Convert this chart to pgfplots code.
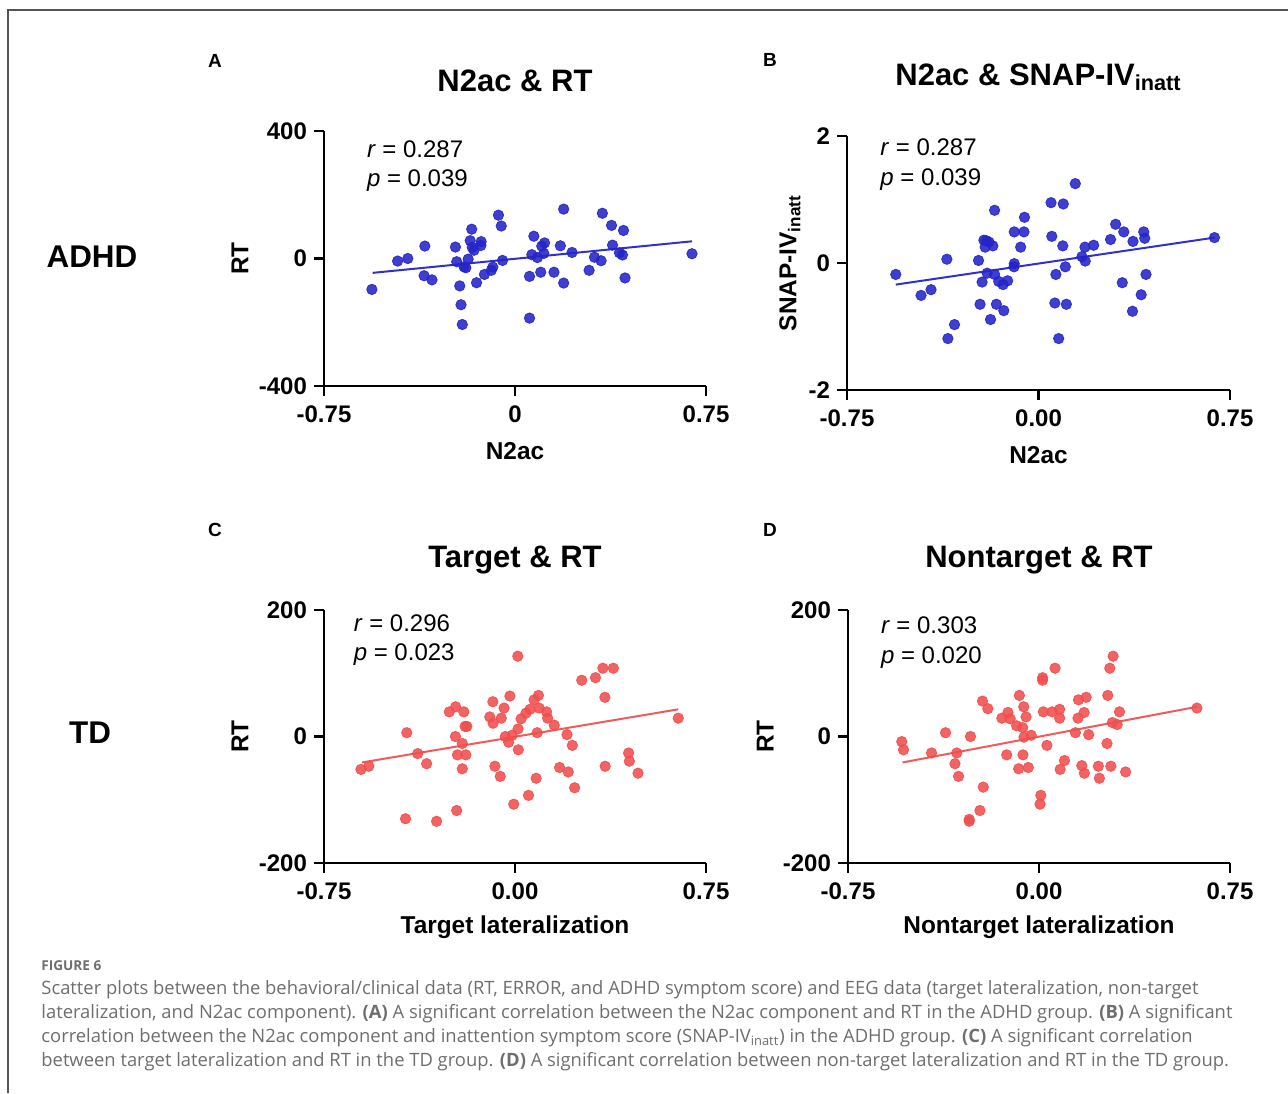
\documentclass[border=0pt]{standalone}
\usepackage{fontspec}
\setmainfont{Liberation Sans}
\newfontfamily\capfont{Open Sans}
\usepackage{pgfplots}
\pgfplotsset{compat=1.18}
\definecolor{ptblue}{HTML}{2424C8}
\definecolor{lnblue}{HTML}{3030CC}
\definecolor{ptred}{HTML}{F04E4E}
\definecolor{lnred}{HTML}{F25A5A}
\definecolor{capgray}{HTML}{6E6E6E}
\definecolor{framegray}{HTML}{555555}

\pgfplotsset{
  panel/.style={
    scale only axis, clip=false,
    axis x line*=bottom, axis y line*=left,
    axis line style={-, line width=1.15pt},
    every tick/.style={black, line width=1.15pt},
    major tick length=5pt, tick align=outside,
    xmin=-0.75, xmax=0.75, xtick={-0.75,0,0.75},
    tick label style={font=\bfseries\fontsize{12}{14}\selectfont},
    xticklabel style={yshift=-1.5pt},
    label style={font=\bfseries\fontsize{12.2}{14}\selectfont},
    title style={font=\bfseries\fontsize{15.5}{18}\selectfont, at={(axis description cs:0.5,1)}, anchor=base},
    xlabel style={at={(axis description cs:0.5,-0.255)}, anchor=center},
  },
  dots/.style={only marks, mark=*, color=#1, mark size=2.6pt, mark options={fill=#1, fill opacity=0.88, draw opacity=0.88}},
}

\begin{document}
\begin{tikzpicture}
\path[use as bounding box] (0,0) rectangle (644pt,-546.5pt);
\draw[framegray, line width=0.9pt] (644pt,-5pt) -- (4pt,-5pt) -- (4pt,-546.5pt);

% A
\begin{axis}[panel, at={(162pt,-193pt)}, anchor=south west, width=191pt, height=127.5pt,
  ymin=-400, ymax=400, ytick={-400,0,400}, yticklabels={-400,0,400}, xticklabels={-0.75,0,0.75},
  title={N2ac \& RT}, title style={yshift=14pt},
  xlabel={N2ac}, ylabel={RT}, ylabel style={at={(axis description cs:-0.22,0.5)}, anchor=center}]
\addplot[dots=ptblue] coordinates {
(-0.562,-97) (-0.461,-8) (-0.421,0) (-0.354,39) (-0.357,-54) (-0.326,-67)
(-0.234,36) (-0.229,-10) (-0.217,-86) (-0.212,-145) (-0.207,-207) (-0.200,-26)
(-0.193,-29) (-0.184,-2) (-0.176,56) (-0.170,92) (-0.168,35) (-0.161,26)
(-0.133,53) (-0.134,41) (-0.151,-76) (-0.120,-50) (-0.093,-37) (-0.087,-27)
(-0.065,136) (-0.054,102) (-0.049,-6) (0.057,-56) (0.057,-187) (0.066,12)
(0.074,70) (0.088,3) (0.101,-43) (0.105,39) (0.116,49) (0.113,16)
(0.153,-43) (0.178,40) (0.191,-77) (0.191,155) (0.224,19) (0.291,-37)
(0.312,4) (0.338,-7) (0.343,142) (0.379,104) (0.383,42) (0.410,18)
(0.422,11) (0.426,88) (0.432,-61) (0.695,15)};
\addplot[lnblue, line width=1pt] coordinates {(-0.559,-45) (0.695,54)};
\end{axis}
\node[anchor=base west, inner sep=0pt, font=\fontsize{12}{14}\selectfont] at (183.3pt,-78.6pt) {\textit{r} = 0.287};
\node[anchor=base west, inner sep=0pt, font=\fontsize{12}{14}\selectfont] at (183.3pt,-93.4pt) {\textit{p} = 0.039};

% B
\begin{axis}[panel, at={(423.5pt,-195pt)}, anchor=south west, width=191.5pt, height=127pt,
  ymin=-2, ymax=2, ytick={-2,0,2}, yticklabels={-2,0,2}, xticklabels={-0.75,0.00,0.75},
  title={N2ac \& SNAP-IV\textsubscript{inatt}}, title style={yshift=19.5pt},
  xlabel={N2ac}, ylabel={SNAP-IV\textsubscript{inatt}}, ylabel style={at={(axis description cs:-0.149,0.5)}, anchor=center}]
\addplot[dots=ptblue] coordinates {
(-0.559,-0.18) (-0.460,-0.51) (-0.421,-0.42) (-0.359,0.06) (-0.329,-0.97) (-0.355,-1.19)
(-0.235,0.04) (-0.221,-0.30) (-0.229,-0.65) (-0.214,0.36) (-0.209,0.25) (-0.204,0.35)
(-0.194,0.33) (-0.179,0.27) (-0.172,0.83) (-0.201,-0.16) (-0.172,-0.18) (-0.188,-0.89)
(-0.165,-0.65) (-0.156,-0.29) (-0.139,-0.34) (-0.121,-0.28) (-0.136,-0.75) (-0.095,0.49)
(-0.057,0.49) (-0.055,0.72) (-0.070,0.25) (-0.095,-0.01) (-0.096,-0.06) (0.049,0.95)
(0.097,0.93) (0.144,1.25) (0.052,0.42) (0.095,0.27) (0.068,-0.18) (0.105,-0.06)
(0.064,-0.63) (0.109,-0.65) (0.079,-1.19) (0.182,0.25) (0.216,0.28) (0.170,0.10)
(0.183,0.03) (0.282,0.37) (0.302,0.61) (0.334,0.49) (0.370,0.34) (0.412,0.49)
(0.416,0.39) (0.328,-0.31) (0.421,-0.18) (0.402,-0.50) (0.368,-0.76) (0.689,0.40)};
\addplot[lnblue, line width=1pt] coordinates {(-0.559,-0.34) (0.689,0.40)};
\end{axis}
\node[anchor=base west, inner sep=0pt, font=\fontsize{12}{14}\selectfont] at (440pt,-77.8pt) {\textit{r} = 0.287};
\node[anchor=base west, inner sep=0pt, font=\fontsize{12}{14}\selectfont] at (440pt,-92.5pt) {\textit{p} = 0.039};

% C
\begin{axis}[panel, at={(162pt,-431.5pt)}, anchor=south west, width=191pt, height=126.5pt,
  ymin=-200, ymax=200, ytick={-200,0,200}, yticklabels={-200,0,200}, xticklabels={-0.75,0.00,0.75},
  title={Target \& RT}, title style={yshift=15.5pt},
  xlabel={Target lateralization}, ylabel={RT}, ylabel style={at={(axis description cs:-0.22,0.5)}, anchor=center}]
\addplot[dots=ptred] coordinates {
(-0.605,-52) (-0.574,-47) (-0.425,6) (-0.430,-130) (-0.382,-27) (-0.347,-43)
(-0.308,-134) (-0.258,39) (-0.233,47) (-0.201,39) (-0.234,0) (-0.207,-11)
(-0.226,-29) (-0.193,-29) (-0.207,-51) (-0.229,-117) (-0.196,16) (-0.189,16)
(-0.087,55) (-0.099,31) (-0.086,21) (-0.054,29) (-0.043,45) (-0.020,64)
(0.011,127) (-0.079,-47) (-0.058,-63) (-0.038,0) (-0.025,-9) (-0.011,2)
(0.012,12) (0.013,-21) (-0.005,-107) (0.024,28) (0.043,37) (0.059,43)
(0.053,-93) (0.075,58) (0.092,65) (0.095,45) (0.087,6) (0.083,-66)
(0.124,39) (0.128,29) (0.154,18) (0.175,-49) (0.204,3) (0.209,-56)
(0.225,-14) (0.234,-81) (0.262,89) (0.316,93) (0.345,108) (0.386,108)
(0.353,62) (0.354,-47) (0.446,-26) (0.449,-39) (0.483,-58) (0.641,29)};
\addplot[lnred, line width=1pt] coordinates {(-0.601,-41) (0.641,43)};
\end{axis}
\node[anchor=base west, inner sep=0pt, font=\fontsize{12}{14}\selectfont] at (176.7pt,-315.8pt) {\textit{r} = 0.296};
\node[anchor=base west, inner sep=0pt, font=\fontsize{12}{14}\selectfont] at (176.7pt,-330pt) {\textit{p} = 0.023};

% D
\begin{axis}[panel, at={(424pt,-431.5pt)}, anchor=south west, width=191pt, height=126.5pt,
  ymin=-200, ymax=200, ytick={-200,0,200}, yticklabels={-200,0,200}, xticklabels={-0.75,0.00,0.75},
  title={Nontarget \& RT}, title style={yshift=15.5pt},
  xlabel={Nontarget lateralization}, ylabel={RT}, ylabel style={at={(axis description cs:-0.217,0.5)}, anchor=center}]
\addplot[dots=ptred] coordinates {
(-0.539,-8) (-0.532,-21) (-0.422,-26) (-0.367,6) (-0.323,-26) (-0.330,-43)
(-0.316,-63) (-0.269,0) (-0.219,-80) (-0.232,-117) (-0.274,-131) (-0.274,-134)
(-0.222,56) (-0.201,44) (-0.146,29) (-0.122,38) (-0.113,28) (-0.127,-29)
(-0.088,17) (-0.077,65) (-0.060,47) (-0.051,31) (-0.064,14) (-0.059,-1)
(-0.031,2) (-0.063,-29) (-0.080,-51) (-0.042,-49) (0.007,-93) (0.004,-107)
(0.014,93) (0.014,89) (0.063,108) (0.017,39) (0.052,39) (0.081,43)
(0.081,29) (0.031,-14) (0.100,-38) (0.083,-52) (0.155,58) (0.185,62)
(0.177,38) (0.153,29) (0.143,6) (0.195,3) (0.168,-46) (0.178,-58)
(0.233,-47) (0.237,-66) (0.282,-47) (0.267,-11) (0.270,65) (0.278,108)
(0.291,127) (0.288,22) (0.307,19) (0.316,39) (0.340,-56) (0.620,45)};
\addplot[lnred, line width=1pt] coordinates {(-0.536,-41) (0.620,47)};
\end{axis}
\node[anchor=base west, inner sep=0pt, font=\fontsize{12}{14}\selectfont] at (440.3pt,-316.5pt) {\textit{r} = 0.303};
\node[anchor=base west, inner sep=0pt, font=\fontsize{12}{14}\selectfont] at (440.3pt,-331.5pt) {\textit{p} = 0.020};

% panel letters and group labels
\node[font=\bfseries\fontsize{9.5}{11}\selectfont] at (107.5pt,-30.5pt) {A};
\node[font=\bfseries\fontsize{9.5}{11}\selectfont] at (385pt,-30pt) {B};
\node[font=\bfseries\fontsize{9.5}{11}\selectfont] at (107.5pt,-265pt) {C};
\node[font=\bfseries\fontsize{9.5}{11}\selectfont] at (385pt,-265pt) {D};
\node[font=\bfseries\fontsize{15.7}{18}\selectfont] at (46pt,-128.5pt) {ADHD};
\node[font=\bfseries\fontsize{15.7}{18}\selectfont] at (45pt,-366.5pt) {TD};

% caption
\begin{scope}[every node/.style={anchor=base west, inner sep=0pt, text=capgray, font=\capfont\fontsize{9.2}{10}\selectfont}]
\node[font=\capfont\bfseries\fontsize{6.8}{8}\selectfont] at (20.5pt,-485pt) {FIGURE 6};
\node at (20.5pt,-497pt) {Scatter plots between the behavioral/clinical data (RT, ERROR, and ADHD symptom score) and EEG data (target lateralization, non-target};
\node at (20.5pt,-509pt) {lateralization, and N2ac component). \textbf{(A)} A significant correlation between the N2ac component and RT in the ADHD group. \textbf{(B)} A significant};
\node at (20.5pt,-521pt) {correlation between the N2ac component and inattention symptom score (SNAP-IV\textsubscript{inatt}) in the ADHD group. \textbf{(C)} A significant correlation};
\node at (20.5pt,-533pt) {between target lateralization and RT in the TD group. \textbf{(D)} A significant correlation between non-target lateralization and RT in the TD group.};
\end{scope}
\end{tikzpicture}
\end{document}
